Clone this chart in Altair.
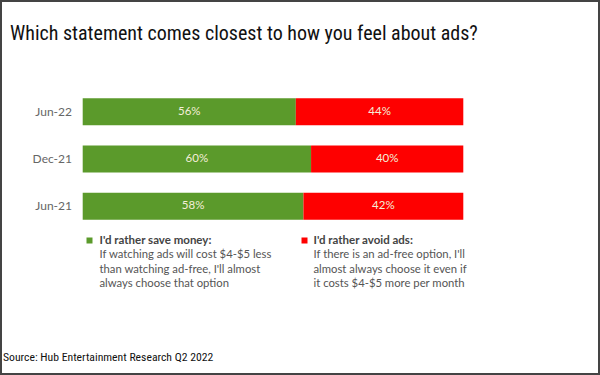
import altair as alt
import pandas as pd

# ---- data ----
periods = ["Jun-22", "Dec-21", "Jun-21"]
save_money = [56, 60, 58]
avoid_ads = [44, 40, 42]
series_names = ["I'd rather save money:", "I'd rather avoid ads:"]
series_colors = ["#5b9a2b", "#fe0000"]

title_text = "Which statement comes closest to how you feel about ads?"
source_text = "Source: Hub Entertainment Research Q2 2022"
legend_lines_save = ["If watching ads will cost $4-$5 less",
                     "than watching ad-free, I'll almost",
                     "always choose that option"]
legend_lines_avoid = ["If there is an ad-free option, I'll",
                      "almost always choose it even if",
                      "it costs $4-$5 more per month"]

# ---- table ----
rows = []
for p, s, a in zip(periods, save_money, avoid_ads):
    rows.append({"period": p, "series": series_names[0], "start": 0, "end": s,
                 "mid": s / 2, "label": f"{s}%"})
    rows.append({"period": p, "series": series_names[1], "start": s, "end": s + a,
                 "mid": s + a / 2, "label": f"{a}%"})
df = pd.DataFrame(rows)

W, H = 600, 375
xscale = alt.Scale(domain=[0, 100], range=[82.7, 463.3])
yscale = alt.Scale(domain=periods, range=[88, 230], paddingInner=0.43, paddingOuter=0.215)

base = alt.Chart(df)

bars = base.mark_bar(cornerRadius=0).encode(
    x=alt.X("start:Q", scale=xscale, axis=None),
    x2="end:Q",
    y=alt.Y("period:N", scale=yscale, axis=None),
    color=alt.Color("series:N", scale=alt.Scale(domain=series_names, range=series_colors), legend=None),
)

bar_labels = base.mark_text(font="Lato", fontSize=11.5, color="#f4eed8").encode(
    x=alt.X("mid:Q", scale=xscale),
    y=alt.Y("period:N", scale=yscale),
    text="label:N",
)

cat_df = pd.DataFrame({"period": periods})
cat_labels = alt.Chart(cat_df).mark_text(font="Lato", fontSize=12, color="#666666", align="right").encode(
    x=alt.value(72),
    y=alt.Y("period:N", scale=yscale),
    text="period:N",
)

title = alt.Chart(pd.DataFrame({"t": [title_text]})).mark_text(
    font="Liberation Sans Narrow, Roboto Condensed, Roboto", fontSize=20, color="#111111",
    align="left", baseline="alphabetic"
).encode(x=alt.value(10), y=alt.value(40), text="t:N")

source = alt.Chart(pd.DataFrame({"t": [source_text]})).mark_text(
    font="Liberation Sans Narrow, Roboto Condensed, Roboto", fontSize=11.7, color="#111111",
    align="left", baseline="alphabetic"
).encode(x=alt.value(3), y=alt.value(360.5), text="t:N")

# legend
leg_sq = alt.Chart(pd.DataFrame({"series": series_names, "xp": [89.5, 304.5]})).mark_square(size=36, opacity=1).encode(
    x=alt.X("xp:Q", scale=None),
    y=alt.value(240.5),
    color=alt.Color("series:N", scale=alt.Scale(domain=series_names, range=series_colors), legend=None),
)
leg_head = alt.Chart(pd.DataFrame({"t": series_names, "xp": [99.5, 313.5]})).mark_text(
    font="Lato", fontSize=11.5, fontWeight="bold", color="#444444", align="left"
).encode(x=alt.X("xp:Q", scale=None), y=alt.value(240.5), text="t:N")

body_rows = []
for i, ln in enumerate(legend_lines_save):
    body_rows.append({"t": ln, "xp": 99.5, "yp": 255 + 14.5 * i})
for i, ln in enumerate(legend_lines_avoid):
    body_rows.append({"t": ln, "xp": 313.5, "yp": 255 + 14.5 * i})
leg_body = alt.Chart(pd.DataFrame(body_rows)).mark_text(
    font="Lato", fontSize=11.3, color="#555555", align="left"
).encode(x=alt.X("xp:Q", scale=None), y=alt.Y("yp:Q", scale=None), text="t:N")

border = alt.Chart(pd.DataFrame({"a": [0]})).mark_rect(fill="transparent", stroke="#444444", strokeWidth=2).encode(
    x=alt.value(1), x2=alt.value(W - 1), y=alt.value(1), y2=alt.value(H - 1)
)

chart = alt.layer(bars, bar_labels, cat_labels, title, source, leg_sq, leg_head, leg_body, border).properties(
    width=W, height=H, padding=0, autosize=alt.AutoSizeParams(type="none"), background="white"
).configure_view(stroke=None).resolve_scale(color="shared")

chart.save("out.html", embed_options={"renderer": "svg", "actions": False})
